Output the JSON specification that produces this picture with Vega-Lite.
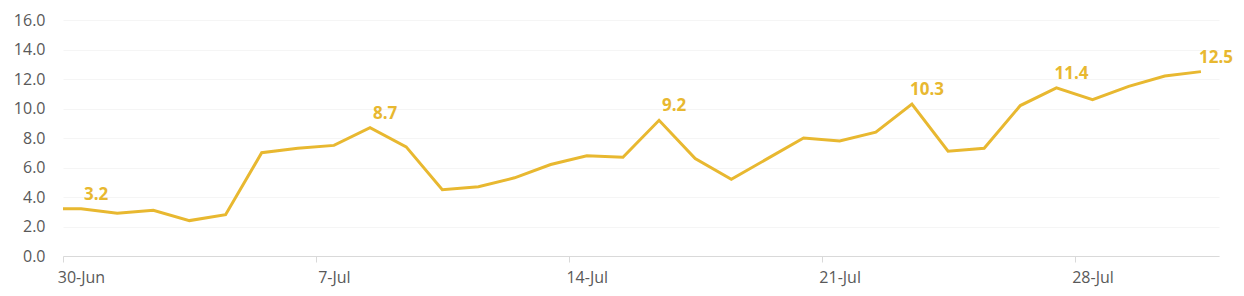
{
  "$schema": "https://vega.github.io/schema/vega-lite/v6.json",
  "width": 1156,
  "height": 236,
  "autosize": {"type": "none"},
  "padding": {"left": 63, "top": 20, "right": 25, "bottom": 40},
  "background": "#ffffff",
  "config": {
    "view": {"stroke": null},
    "font": "Open Sans"
  },
  "data": {
    "values": [
      {"date": "2024-06-29T12:00:00", "value": 3.2, "label": ""},
      {"date": "2024-06-30T12:00:00", "value": 3.2, "label": "3.2"},
      {"date": "2024-07-01T12:00:00", "value": 2.9, "label": ""},
      {"date": "2024-07-02T12:00:00", "value": 3.1, "label": ""},
      {"date": "2024-07-03T12:00:00", "value": 2.4, "label": ""},
      {"date": "2024-07-04T12:00:00", "value": 2.8, "label": ""},
      {"date": "2024-07-05T12:00:00", "value": 7.0, "label": ""},
      {"date": "2024-07-06T12:00:00", "value": 7.3, "label": ""},
      {"date": "2024-07-07T12:00:00", "value": 7.5, "label": ""},
      {"date": "2024-07-08T12:00:00", "value": 8.7, "label": "8.7"},
      {"date": "2024-07-09T12:00:00", "value": 7.4, "label": ""},
      {"date": "2024-07-10T12:00:00", "value": 4.5, "label": ""},
      {"date": "2024-07-11T12:00:00", "value": 4.7, "label": ""},
      {"date": "2024-07-12T12:00:00", "value": 5.3, "label": ""},
      {"date": "2024-07-13T12:00:00", "value": 6.2, "label": ""},
      {"date": "2024-07-14T12:00:00", "value": 6.8, "label": ""},
      {"date": "2024-07-15T12:00:00", "value": 6.7, "label": ""},
      {"date": "2024-07-16T12:00:00", "value": 9.2, "label": "9.2"},
      {"date": "2024-07-17T12:00:00", "value": 6.6, "label": ""},
      {"date": "2024-07-18T12:00:00", "value": 5.2, "label": ""},
      {"date": "2024-07-19T12:00:00", "value": 6.6, "label": ""},
      {"date": "2024-07-20T12:00:00", "value": 8.0, "label": ""},
      {"date": "2024-07-21T12:00:00", "value": 7.8, "label": ""},
      {"date": "2024-07-22T12:00:00", "value": 8.4, "label": ""},
      {"date": "2024-07-23T12:00:00", "value": 10.3, "label": "10.3"},
      {"date": "2024-07-24T12:00:00", "value": 7.1, "label": ""},
      {"date": "2024-07-25T12:00:00", "value": 7.3, "label": ""},
      {"date": "2024-07-26T12:00:00", "value": 10.2, "label": ""},
      {"date": "2024-07-27T12:00:00", "value": 11.4, "label": "11.4"},
      {"date": "2024-07-28T12:00:00", "value": 10.6, "label": ""},
      {"date": "2024-07-29T12:00:00", "value": 11.5, "label": ""},
      {"date": "2024-07-30T12:00:00", "value": 12.2, "label": ""},
      {"date": "2024-07-31T12:00:00", "value": 12.5, "label": "12.5"}
    ]
  },
  "encoding": {
    "x": {
      "field": "date",
      "type": "temporal",
      "scale": {"domain": [{"year": 2024, "month": "jun", "date": 30}, {"year": 2024, "month": "aug", "date": 1}]},
      "axis": {
        "title": null,
        "values": [
          {"year": 2024, "month": "jun", "date": 30},
          {"year": 2024, "month": "jul", "date": 7},
          {"year": 2024, "month": "jul", "date": 14},
          {"year": 2024, "month": "jul", "date": 21},
          {"year": 2024, "month": "jul", "date": 28}
        ],
        "format": "%-d-%b",
        "grid": false,
        "domainColor": "#d9d9d9",
        "domainWidth": 1,
        "tickColor": "#d9d9d9",
        "tickSize": 6,
        "labelPadding": 7,
        "labelOffset": 18,
        "labelColor": "#595959",
        "labelFontSize": 16,
        "labelFlush": false
      }
    },
    "y": {
      "field": "value",
      "type": "quantitative",
      "scale": {"domain": [0, 16]},
      "axis": {
        "title": null,
        "values": [0, 2, 4, 6, 8, 10, 12, 14, 16],
        "format": ".1f",
        "domain": false,
        "ticks": false,
        "grid": true,
        "gridColor": "#f5f5f5",
        "gridWidth": 1,
        "labelPadding": 18,
        "labelColor": "#595959",
        "labelFontSize": 16
      }
    }
  },
  "layer": [
    {
      "mark": {"type": "line", "color": "#E8B830", "strokeWidth": 3, "clip": true}
    },
    {
      "transform": [{"filter": "datum.label != ''"}],
      "mark": {"type": "text", "color": "#E8B830", "fontWeight": "bold", "fontSize": 17, "align": "center", "baseline": "middle", "dx": 15, "dy": -14},
      "encoding": {"text": {"field": "label"}}
    }
  ]
}
